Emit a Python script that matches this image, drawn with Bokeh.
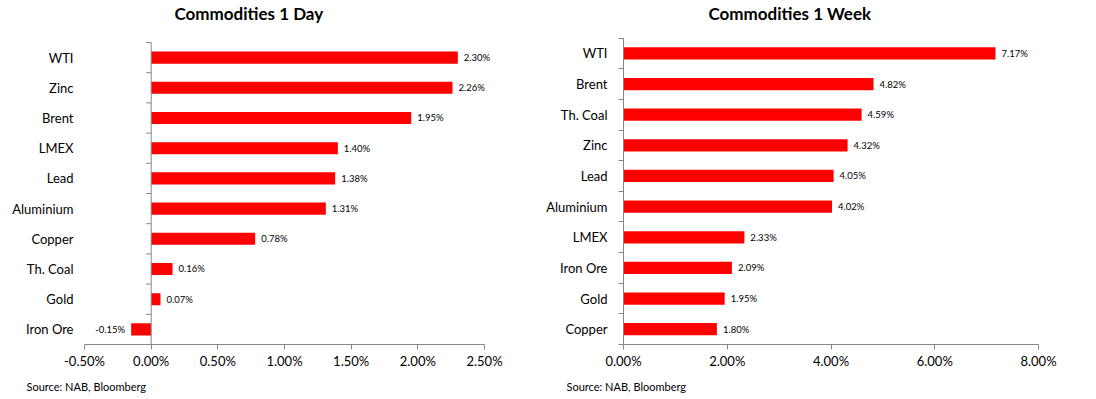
import numpy as np
from bokeh.plotting import figure
from bokeh.layouts import row
from bokeh.models import (ColumnDataSource, FixedTicker, PrintfTickFormatter,
                          Title)
from bokeh.core.properties import value, field
from bokeh.embed import file_html
from bokeh.resources import INLINE

# ---- data ----
day_names = ["WTI", "Zinc", "Brent", "LMEX", "Lead", "Aluminium", "Copper",
             "Th. Coal", "Gold", "Iron Ore"]
day_values = [2.30, 2.26, 1.95, 1.40, 1.38, 1.31, 0.78, 0.16, 0.07, -0.15]
day_ticks = [-0.5, 0.0, 0.5, 1.0, 1.5, 2.0, 2.5]

week_names = ["WTI", "Brent", "Th. Coal", "Zinc", "Lead", "Aluminium", "LMEX",
              "Iron Ore", "Gold", "Copper"]
week_values = [7.17, 4.82, 4.59, 4.32, 4.05, 4.02, 2.33, 2.09, 1.95, 1.80]
week_ticks = [0, 2, 4, 6, 8]

FONT = "Lato"
GRAY = "#868686"
RED = "#FF0000"


def make_chart(names, vals, ticks, xr, y_top, width, borders, title,
               title_off, src_off, axis_at_zero):
    n = len(names)
    ys = [n - 1 - i for i in range(n)]
    src = ColumnDataSource(dict(
        y=ys, v=vals,
        lbl=[f"{v:.2f}%" for v in vals],
        off=[6 if v >= 0 else -6 for v in vals],
        align=["left" if v >= 0 else "right" for v in vals],
    ))
    left, right, top, bottom = borders
    p = figure(width=width, height=399, x_range=xr, y_range=(-0.5, y_top),
               output_backend="svg", toolbar_location=None,
               min_border_left=left, min_border_right=right,
               min_border_top=top, min_border_bottom=bottom)
    p.outline_line_color = None
    p.grid.visible = False

    p.hbar(y="y", left=0, right="v", height=0.4, source=src,
           fill_color=RED, line_color=None)
    t = p.text(x="v", y="y", text="lbl", x_offset="off",
               text_align=field("align"), text_baseline="middle", source=src,
               text_font=value(FONT), text_font_size="9.5px",
               text_color="#000000")
    t.level = "overlay"

    # x axis
    xa = p.xaxis[0]
    xa.ticker = FixedTicker(ticks=ticks)
    xa.formatter = PrintfTickFormatter(format="%.2f%%")
    xa.axis_line_color = GRAY
    xa.major_tick_line_color = GRAY
    xa.major_tick_out = 5
    xa.major_tick_in = 0
    xa.minor_tick_line_color = None
    xa.major_label_text_font = FONT
    xa.major_label_text_font_size = "13px"
    xa.major_label_text_color = "#000000"
    xa.major_label_standoff = 3

    # y axis (categories), ticks between categories
    bounds = [i - 0.5 for i in range(n + 1)]
    ya = p.yaxis[0]
    ya.ticker = FixedTicker(ticks=list(range(n)), minor_ticks=bounds)
    ya.major_label_overrides = {y: nm for y, nm in zip(ys, names)}
    ya.major_tick_line_color = None
    ya.major_tick_out = 0
    ya.major_tick_in = 0
    ya.major_label_text_font = FONT
    ya.major_label_text_font_size = "13px"
    ya.major_label_text_color = "#000000"
    ya.major_label_standoff = 11
    ya.bounds = (-0.5, n - 0.5)
    if axis_at_zero:
        ya.axis_line_color = None
        ya.minor_tick_line_color = None
        ya.minor_tick_out = 0
        p.segment(x0=[0], y0=[bounds[0]], x1=[0], y1=[bounds[-1]],
                  line_color=GRAY, line_width=1)
        p.ray(x=[0] * len(bounds), y=bounds, length=5, length_units="screen",
              angle=np.pi, line_color=GRAY, line_width=1)
    else:
        ya.axis_line_color = GRAY
        ya.minor_tick_line_color = GRAY
        ya.minor_tick_out = 5
        ya.minor_tick_in = 0

    p.add_layout(Title(text=title, align="left", offset=title_off,
                       vertical_align="bottom", standoff=0,
                       text_font=FONT, text_font_size="17px",
                       text_font_style="bold", text_color="#000000"), "above")
    p.add_layout(Title(text="Source: NAB, Bloomberg", align="left",
                       offset=src_off, vertical_align="bottom", standoff=12,
                       text_font=FONT, text_font_size="11px",
                       text_font_style="normal", text_color="#000000"),
                 "below")
    return p


p1 = make_chart(day_names, day_values, day_ticks, (-0.5, 2.5), 10.129, 540,
                (84, 56, 23, 55), "Commodities 1 Day", 90, -58, True)
p2 = make_chart(week_names, week_values, week_ticks, (0, 8), 9.976, 556,
                (83, 58, 23, 52), "Commodities 1 Week", 85, -57, False)

p = row(p1, p2)
open("out.html", "w").write(file_html(p, INLINE))
